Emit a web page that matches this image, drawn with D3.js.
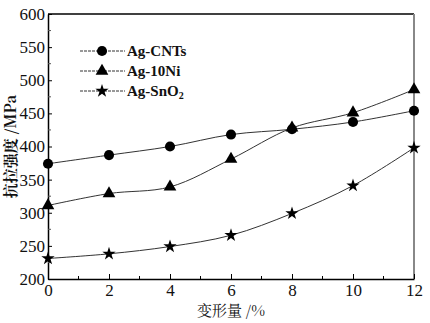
<!DOCTYPE html>
<html>
<head>
<meta charset="utf-8">
<script src="https://cdn.jsdelivr.net/npm/d3@7"></script>
<style>
  body { margin: 0; background: #fff; }
</style>
</head>
<body>
<div id="chart"></div>
<script>
// deformation (%) and tensile strength (MPa)
var deform = [0, 2, 4, 6, 8, 10, 12];
var cnts   = [374, 387, 400, 418, 426, 437, 454];
var ni10   = [311, 329, 339, 381, 428, 451, 486];
var sno2   = [231, 238, 249, 266, 299, 341, 398];
var seriesNames = ["Ag-CNTs", "Ag-10Ni", "Ag-SnO2"];
var xTicks = [0, 2, 4, 6, 8, 10, 12];
var yTicks = [200, 250, 300, 350, 400, 450, 500, 550, 600];

var width = 430, height = 323;
var margin = {left: 48, right: 16, top: 14, bottom: 44};
var serif = "Liberation Serif";

var svg = d3.select("#chart")
    .append("svg")
    .attr("width", width)
    .attr("height", height)
    .attr("font-family", serif);

var x = d3.scaleLinear()
    .domain([0, 12])
    .range([margin.left, width - margin.right]);

var y = d3.scaleLinear()
    .domain([200, 600])
    .range([height - margin.bottom, margin.top]);

var series = [
    {name: seriesNames[0], values: cnts, symbol: d3.symbolCircle, size: 80},
    {name: seriesNames[1], values: ni10, symbol: d3.symbolTriangle, size: 70},
    {name: seriesNames[2], values: sno2, symbol: d3.symbolStar, size: 55}
];

// frame: top black, right grey
svg.append("line")
    .attr("x1", x(0)).attr("x2", x(12))
    .attr("y1", y(600)).attr("y2", y(600))
    .attr("stroke", "#000").attr("stroke-width", 1.5);
svg.append("line")
    .attr("x1", x(12)).attr("x2", x(12))
    .attr("y1", y(600)).attr("y2", y(200))
    .attr("stroke", "#888").attr("stroke-width", 2);

// axes, ticks pointing inward
var xAxis = d3.axisBottom(x)
    .tickValues(xTicks)
    .tickSizeInner(-5)
    .tickSizeOuter(0)
    .tickPadding(5);

var gx = svg.append("g")
    .attr("class", "x axis")
    .attr("transform", "translate(0," + y(200) + ")")
    .call(xAxis);

var yAxis = d3.axisLeft(y)
    .tickValues(yTicks)
    .tickSizeInner(-4)
    .tickSizeOuter(0)
    .tickPadding(3);

var gy = svg.append("g")
    .attr("class", "y axis")
    .attr("transform", "translate(" + x(0) + ",0)")
    .call(yAxis);

svg.selectAll(".axis").attr("font-family", serif);

// minor ticks
svg.append("g")
    .selectAll("line")
    .data(d3.range(1, 12, 2))
    .enter()
    .append("line")
    .attr("x1", function(d){ return x(d); })
    .attr("x2", function(d){ return x(d); })
    .attr("y1", y(200))
    .attr("y2", y(200) - 3)
    .attr("stroke", "#000");

svg.append("g")
    .selectAll("line")
    .data(d3.range(225, 600, 50))
    .enter()
    .append("line")
    .attr("x1", x(0))
    .attr("x2", x(0) + 3)
    .attr("y1", function(d){ return y(d); })
    .attr("y2", function(d){ return y(d); })
    .attr("stroke", "#555");

svg.selectAll(".axis path").attr("stroke", "#000").attr("stroke-width", 1.5);
svg.selectAll(".axis line").attr("stroke", "#000");
svg.selectAll(".axis text")
    .attr("font-size", "17px")
    .attr("fill", "#111")
    .attr("font-family", serif)
    .style("font-family", "'Liberation Serif'");
gx.selectAll("text").attr("dy", "0.72em");

// axis titles
svg.append("text")
    .attr("x", (x(0) + x(12)) / 2)
    .attr("y", 316)
    .attr("text-anchor", "middle")
    .attr("font-size", "15px")
    .attr("fill", "#111")
    .style("font-family", "'Noto Serif CJK SC'")
    .text("变形量 /%");

svg.append("text")
    .attr("transform", "translate(16," + ((y(200) + y(600)) / 2) + ") rotate(-90)")
    .attr("text-anchor", "middle")
    .attr("font-size", "15px")
    .attr("font-weight", "bold")
    .attr("fill", "#111")
    .style("font-family", "'Noto Serif CJK SC'")
    .text("抗拉强度 /MPa");

// curves
var line = d3.line()
    .x(function(d, i){ return x(deform[i]); })
    .y(function(d){ return y(d); })
    .curve(d3.curveCatmullRom.alpha(0.5));

var groups = svg.selectAll(".series")
    .data(series)
    .enter()
    .append("g")
    .attr("class", "series");

groups.append("path")
    .attr("d", function(d){ return line(d.values); })
    .attr("fill", "none")
    .attr("stroke", "#333")
    .attr("stroke-width", 1);

groups.each(function(s){
    d3.select(this).selectAll("path.mark")
        .data(s.values)
        .enter()
        .append("path")
        .attr("class", "mark")
        .attr("transform", function(d, i){
            return "translate(" + x(deform[i]) + "," + y(d) + ")";
        })
        .attr("d", d3.symbol().type(s.symbol).size(s.size))
        .attr("fill", "#000");
});

// legend
var legend = svg.selectAll(".legend")
    .data(series)
    .enter()
    .append("g")
    .attr("class", "legend")
    .attr("transform", function(d, i){
        return "translate(80," + (51 + i * 20) + ")";
    });

legend.append("line")
    .attr("x1", 0).attr("x2", 45)
    .attr("stroke", "#333")
    .attr("stroke-width", 1)
    .attr("stroke-dasharray", "3,1");

legend.append("path")
    .attr("transform", "translate(22,0)")
    .attr("d", function(d){ return d3.symbol().type(d.symbol).size(d.size)(); })
    .attr("fill", "#000");

var lt = legend.append("text")
    .attr("x", 47)
    .attr("y", 5)
    .attr("font-size", "15px")
    .attr("font-weight", "bold")
    .attr("fill", "#111")
    .attr("font-family", serif)
    .style("font-family", "'Liberation Serif'");

lt.each(function(d){
    var t = d3.select(this);
    if (d.name === "Ag-SnO2") {
        t.append("tspan").text("Ag-SnO");
        t.append("tspan").attr("font-size", "10px").attr("dy", 3).text("2");
    } else {
        t.text(d.name);
    }
});
</script>
</body>
</html>
